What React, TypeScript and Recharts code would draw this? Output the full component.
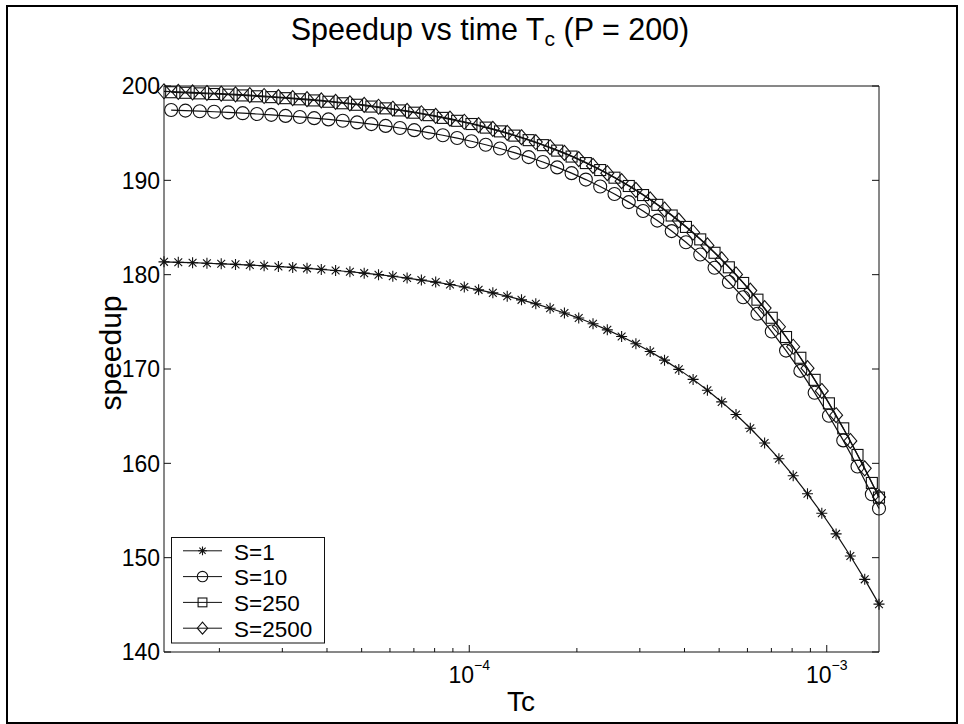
import React from 'react';
import { LineChart, Line, XAxis, YAxis, Legend } from 'recharts';

const FONT = '"Liberation Sans", Arial, Helvetica, sans-serif';
const INK = '#111';

// Tc sample points (markers of S=1 and S=2500)
const TC_A = [
  1.400e-5, 1.535e-5, 1.683e-5, 1.846e-5, 2.024e-5, 2.219e-5, 2.433e-5, 2.668e-5, 2.925e-5, 3.207e-5,
  3.517e-5, 3.856e-5, 4.228e-5, 4.636e-5, 5.083e-5, 5.574e-5, 6.111e-5, 6.701e-5, 7.347e-5, 8.056e-5,
  8.833e-5, 9.686e-5, 1.062e-4, 1.164e-4, 1.277e-4, 1.400e-4, 1.535e-4, 1.683e-4, 1.846e-4, 2.024e-4,
  2.219e-4, 2.433e-4, 2.668e-4, 2.925e-4, 3.207e-4, 3.517e-4, 3.856e-4, 4.228e-4, 4.636e-4, 5.083e-4,
  5.574e-4, 6.111e-4, 6.701e-4, 7.347e-4, 8.056e-4, 8.833e-4, 9.686e-4, 1.062e-3, 1.164e-3, 1.277e-3,
  1.400e-3,
];
// Tc sample points (markers of S=10 and S=250), shifted half a step
const TC_B = [
  1.466e-5, 1.607e-5, 1.762e-5, 1.933e-5, 2.119e-5, 2.324e-5, 2.548e-5, 2.794e-5, 3.063e-5, 3.358e-5,
  3.683e-5, 4.038e-5, 4.427e-5, 4.854e-5, 5.323e-5, 5.836e-5, 6.399e-5, 7.017e-5, 7.693e-5, 8.436e-5,
  9.249e-5, 1.014e-4, 1.112e-4, 1.219e-4, 1.337e-4, 1.466e-4, 1.607e-4, 1.762e-4, 1.933e-4, 2.119e-4,
  2.324e-4, 2.548e-4, 2.794e-4, 3.063e-4, 3.358e-4, 3.683e-4, 4.038e-4, 4.427e-4, 4.854e-4, 5.323e-4,
  5.836e-4, 6.399e-4, 7.017e-4, 7.693e-4, 8.436e-4, 9.249e-4, 1.014e-3, 1.112e-3, 1.219e-3, 1.337e-3,
  1.400e-3,
];

const SPEEDUP_S1 = [
  181.36, 181.31, 181.27, 181.21, 181.15, 181.09, 181.02, 180.94, 180.86, 180.77,
  180.67, 180.56, 180.44, 180.31, 180.16, 180.0, 179.83, 179.64, 179.43, 179.21,
  178.96, 178.69, 178.39, 178.07, 177.71, 177.33, 176.91, 176.44, 175.94, 175.4,
  174.8, 174.15, 173.45, 172.68, 171.85, 170.94, 169.96, 168.9, 167.75, 166.51,
  165.17, 163.72, 162.16, 160.49, 158.69, 156.77, 154.71, 152.52, 150.18, 147.7,
  145.07,
];
const SPEEDUP_S10 = [
  197.45, 197.39, 197.33, 197.27, 197.2, 197.12, 197.03, 196.94, 196.83, 196.72,
  196.59, 196.46, 196.31, 196.14, 195.96, 195.77, 195.55, 195.32, 195.06, 194.78,
  194.48, 194.14, 193.77, 193.37, 192.93, 192.46, 191.94, 191.37, 190.76, 190.08,
  189.35, 188.55, 187.69, 186.75, 185.73, 184.62, 183.43, 182.13, 180.73, 179.22,
  177.6, 175.85, 173.97, 171.95, 169.8, 167.49, 165.04, 162.43, 159.66, 156.73,
  155.21,
];
const SPEEDUP_S250 = [
  199.34, 199.28, 199.22, 199.15, 199.08, 199.0, 198.91, 198.82, 198.71, 198.59,
  198.47, 198.33, 198.17, 198.01, 197.82, 197.63, 197.41, 197.17, 196.91, 196.62,
  196.31, 195.97, 195.59, 195.19, 194.74, 194.26, 193.73, 193.15, 192.52, 191.83,
  191.09, 190.28, 189.4, 188.44, 187.4, 186.27, 185.06, 183.74, 182.32, 180.78,
  179.12, 177.35, 175.43, 173.39, 171.19, 168.85, 166.36, 163.71, 160.89, 157.92,
  156.37,
];
const SPEEDUP_S2500 = [
  199.44, 199.38, 199.32, 199.26, 199.19, 199.11, 199.03, 198.94, 198.83, 198.72,
  198.6, 198.47, 198.32, 198.16, 197.99, 197.8, 197.59, 197.36, 197.11, 196.84,
  196.54, 196.21, 195.85, 195.46, 195.04, 194.57, 194.06, 193.51, 192.91, 192.25,
  191.53, 190.76, 189.91, 188.99, 187.99, 186.91, 185.74, 184.47, 183.1, 181.62,
  180.03, 178.31, 176.46, 174.48, 172.36, 170.09, 167.67, 165.1, 162.37, 159.47,
  156.42,
];

const SERIES_NAMES = ['S=1', 'S=10', 'S=250', 'S=2500'];
const MARKERS = ['star', 'circle', 'square', 'diamond'];

const X_DOMAIN = [1.4e-5, 1.4e-3];
const X_MAJOR = [1e-4, 1e-3];
const X_MINOR = [
  2e-5, 3e-5, 4e-5, 5e-5, 6e-5, 7e-5, 8e-5, 9e-5,
  2e-4, 3e-4, 4e-4, 5e-4, 6e-4, 7e-4, 8e-4, 9e-4,
];
const X_TICKS = [...X_MINOR, ...X_MAJOR].sort((a, b) => a - b);
const Y_DOMAIN = [140, 200];
const Y_TICKS = [140, 150, 160, 170, 180, 190, 200];

const toPoints = (xs: number[], ys: number[]) => xs.map((tc, i) => ({ tc, speedup: ys[i] }));
const SERIES_DATA = [
  toPoints(TC_A, SPEEDUP_S1),
  toPoints(TC_B, SPEEDUP_S10),
  toPoints(TC_B, SPEEDUP_S250),
  toPoints(TC_A, SPEEDUP_S2500),
];

const Marker = ({ kind, cx, cy, k = 1 }: { kind: string; cx?: number; cy?: number; k?: number }) => {
  if (cx == null || cy == null) return null;
  const s = { fill: 'none', stroke: INK, strokeWidth: 1.1 };
  if (kind === 'star') {
    const r = 5.5 * k, d = 3.9 * k;
    return (
      <path
        d={`M${cx - r},${cy}H${cx + r}M${cx},${cy - r}V${cy + r}M${cx - d},${cy - d}L${cx + d},${cy + d}M${cx - d},${cy + d}L${cx + d},${cy - d}`}
        {...s}
      />
    );
  }
  if (kind === 'circle') return <circle cx={cx} cy={cy} r={6.5 * k} {...s} />;
  if (kind === 'square') {
    const h = 5.5 * k;
    return <rect x={cx - h} y={cy - h} width={2 * h} height={2 * h} {...s} />;
  }
  const w = 6.5 * k, h = 7.5 * k;
  return <path d={`M${cx},${cy - h}L${cx + w},${cy}L${cx},${cy + h}L${cx - w},${cy}Z`} {...s} />;
};

const supMinus = (v: number) => String(Math.round(Math.log10(v))).replace('-', '\u2212');

const BottomTick = (props: any) => {
  const { x, y, payload } = props;
  const major = X_MAJOR.includes(payload.value);
  return (
    <g>
      <line x1={x} y1={y} x2={x} y2={y - (major ? 7 : 4)} stroke={INK} />
      {major && (
        <text x={x} y={y + 31} textAnchor="middle" fontSize={23} fontFamily={FONT} fill="#000">
          10
          <tspan dy={-13} fontSize={14}>{supMinus(payload.value)}</tspan>
        </text>
      )}
    </g>
  );
};

const TopTick = (props: any) => {
  const { x, y, payload } = props;
  const major = X_MAJOR.includes(payload.value);
  return <line x1={x} y1={y} x2={x} y2={y + (major ? 7 : 4)} stroke={INK} />;
};

const LeftTick = (props: any) => {
  const { x, y, payload } = props;
  return (
    <g>
      <line x1={x} y1={y} x2={x + 7} y2={y} stroke={INK} />
      <text x={x - 4} y={y + 8.2} textAnchor="end" fontSize={23} fontFamily={FONT} fill="#000">
        {payload.value}
      </text>
    </g>
  );
};

const RightTick = (props: any) => {
  const { x, y } = props;
  return <line x1={x} y1={y} x2={x - 7} y2={y} stroke={INK} />;
};

const LegendBox = (props: any) => {
  const payload = props.payload || [];
  return (
    <svg width={155} height={107} style={{ display: 'block', overflow: 'visible' }}>
      <rect x={0.5} y={0.5} width={153} height={105.5} fill="#fff" stroke={INK} />
      {payload.map((item: any, i: number) => {
        const y = 13.8 + i * 25.8;
        const kind = MARKERS[SERIES_NAMES.indexOf(item.value)];
        return (
          <g key={item.value}>
            <line x1={12} x2={51} y1={y} y2={y} stroke={INK} />
            <Marker kind={kind} cx={31.5} cy={y} k={0.8} />
            <text x={63} y={y + 8.8} fontSize={22.5} fontFamily={FONT} fill="#000">
              {item.value}
            </text>
          </g>
        );
      })}
    </svg>
  );
};

const App = () => (
  <div style={{ position: 'absolute', left: 0, top: 0, width: 964, height: 724, background: '#fff', fontFamily: FONT }}>
    <div
      style={{
        position: 'absolute', left: 6, top: 5, width: 952, height: 719,
        border: '2px solid #000', boxSizing: 'border-box',
      }}
    />
    <div style={{ position: 'absolute', top: 12, left: 0, width: 980, textAlign: 'center', fontSize: 30.5, lineHeight: '35px', color: '#000', whiteSpace: 'nowrap' }}>
      Speedup vs time T<span style={{ fontSize: 21, position: 'relative', top: 6 }}>c</span> (P = 200)
    </div>
    <div
      style={{
        position: 'absolute', left: 111, top: 353, fontSize: 30, lineHeight: '34px', color: '#000',
        whiteSpace: 'nowrap', transform: 'translate(-50%, -50%) rotate(-90deg)',
      }}
    >
      speedup
    </div>
    <div style={{ position: 'absolute', left: 421, width: 200, top: 686, textAlign: 'center', fontSize: 28, lineHeight: '32px', color: '#000' }}>
      Tc
    </div>
    <LineChart width={964} height={724} margin={{ top: 85, right: 84, bottom: 32, left: 104 }}>
      <XAxis
        dataKey="tc" type="number" scale="log" domain={X_DOMAIN} ticks={X_TICKS} interval={0}
        height={40} tickSize={0} tickMargin={0} tickLine={false} tick={<BottomTick />}
        axisLine={{ stroke: INK }}
      />
      <XAxis
        xAxisId="top" orientation="top" type="number" scale="log" domain={X_DOMAIN} allowDataOverflow
        ticks={X_TICKS} interval={0} height={1} tickSize={0} tickMargin={0} tickLine={false}
        tick={<TopTick />} axisLine={{ stroke: INK }}
      />
      <YAxis
        dataKey="speedup" type="number" domain={Y_DOMAIN} ticks={Y_TICKS} interval={0}
        width={60} tickSize={0} tickMargin={0} tickLine={false} tick={<LeftTick />}
        axisLine={{ stroke: INK }}
      />
      <YAxis
        yAxisId="right" orientation="right" type="number" domain={Y_DOMAIN} allowDataOverflow
        ticks={Y_TICKS} interval={0} width={1} tickSize={0} tickMargin={0} tickLine={false}
        tick={<RightTick />} axisLine={{ stroke: INK }}
      />
      <Legend
        layout="vertical" align="center" verticalAlign="middle" content={<LegendBox />}
        wrapperStyle={{ left: 171, top: 537, width: 155, height: 107 }}
      />
      {SERIES_NAMES.map((name, i) => (
        <Line
          key={name}
          name={name}
          data={SERIES_DATA[i]}
          dataKey="speedup"
          stroke={INK}
          strokeWidth={1.2}
          isAnimationActive={false}
          dot={(p: any) => <Marker key={`${name}-${p.index}`} kind={MARKERS[i]} cx={p.cx} cy={p.cy} />}
          activeDot={false}
        />
      ))}
    </LineChart>
  </div>
);

export default App;
